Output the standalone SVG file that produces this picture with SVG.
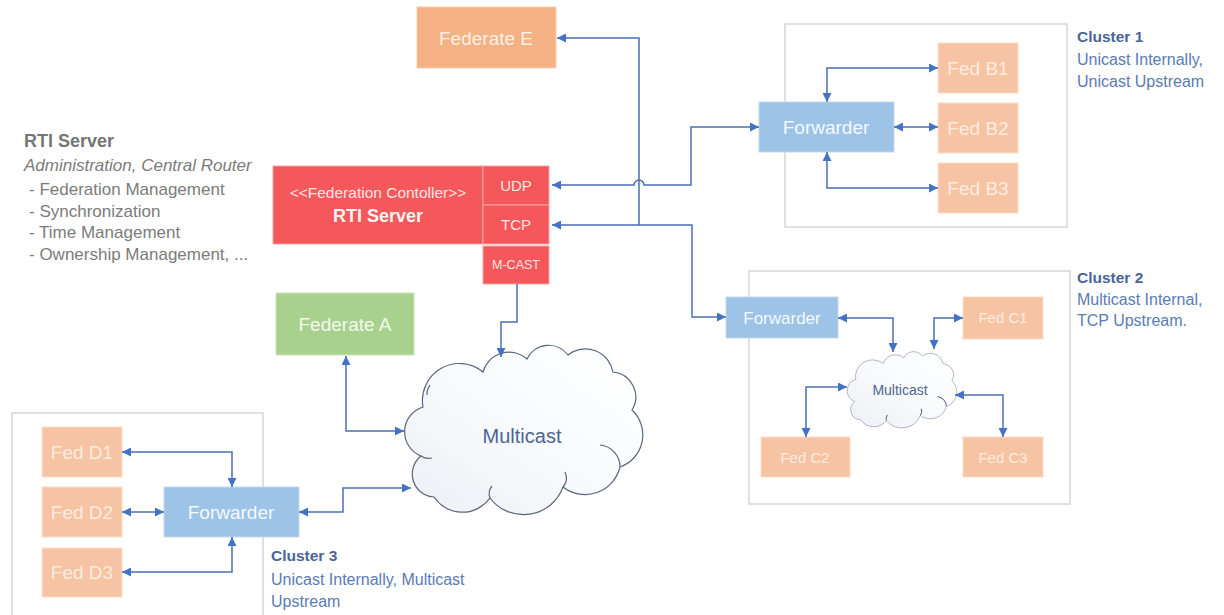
<svg xmlns="http://www.w3.org/2000/svg" width="1224" height="615" viewBox="0 0 1224 615">
<style>
text{font-family:"Liberation Sans",Arial,sans-serif}
.conn{fill:none;stroke:#4a6fb5;stroke-width:1.5}
.cluster{fill:#ffffff;stroke:#d6d6d6;stroke-width:1.5}
.fed{fill:#f6c4a2;stroke:#fadccb;stroke-width:1}
.fedt{fill:#fcebe0;font-size:19px;text-anchor:middle}
.fwd{fill:#9dc3e6;stroke:#c3d9ef;stroke-width:1}
.fwdt{fill:#f4f9fd;font-size:19px;text-anchor:middle}
.rti{fill:#f4585b;stroke:#f8a3a4;stroke-width:1}
.rtit{fill:#fde6e6;text-anchor:middle}
.note{fill:#7b7b7b;font-size:17px}
.clh{fill:#4a6598;font-size:15.5px;font-weight:bold}
.cl{fill:#5a7bb5;font-size:16px}
.cloud{fill:url(#cg);stroke:#59657c;stroke-width:1.2}
.mc{fill:#4d6594;text-anchor:middle}
</style>
<defs>
<marker id="ah" viewBox="0 0 10 10" refX="10" refY="5" markerWidth="9" markerHeight="9" markerUnits="userSpaceOnUse" orient="auto-start-reverse">
<path d="M0,0 L10,5 L0,10 z" fill="#4472c4"/>
</marker>
<linearGradient id="cg" x1="0" y1="1" x2="1" y2="0">
<stop offset="0" stop-color="#eceff5"/>
<stop offset="0.55" stop-color="#fafbfd"/>
<stop offset="1" stop-color="#ffffff"/>
</linearGradient>
<path id="cloudShape" d="M423,407 A37,37 0 0 1 483,372 A27,27 0 0 1 527,359 A24,24 0 0 1 568,355 A28,28 0 0 1 613,372 A25,25 0 0 1 632,410 A34,34 0 0 1 620,467 A36,36 0 0 1 563,487 A42,42 0 0 1 490,498 A34,34 0 0 1 434,497 A23,23 0 0 1 421,456 A26,26 0 0 1 423,407 Z"/>
</defs>

<!-- cluster frames -->
<g id="cluster1"><rect class="cluster" x="785" y="24" width="282" height="203"/></g>
<g id="cluster2"><rect class="cluster" x="749" y="271" width="321" height="233"/></g>
<g id="cluster3"><rect class="cluster" x="12" y="413" width="251" height="215"/></g>

<!-- left description -->
<g id="rti-description">
<text x="24" y="147" style="fill:#767676;font-size:18px;font-weight:bold">RTI Server</text>
<text x="24" y="171" class="note" style="font-style:italic">Administration, Central Router</text>
<text x="29" y="195" class="note">- Federation Management</text>
<text x="29" y="217" class="note">- Synchronization</text>
<text x="29" y="238" class="note">- Time Management</text>
<text x="29" y="260" class="note">- Ownership Management, ...</text>
</g>

<!-- cluster labels -->
<g id="cluster1-label">
<text x="1077" y="42" class="clh">Cluster 1</text>
<text x="1077" y="65" class="cl">Unicast Internally,</text>
<text x="1077" y="87" class="cl">Unicast Upstream</text>
</g>
<g id="cluster2-label">
<text x="1077" y="283" class="clh">Cluster 2</text>
<text x="1077" y="305" class="cl">Multicast Internal,</text>
<text x="1077" y="326" class="cl">TCP Upstream.</text>
</g>
<g id="cluster3-label">
<text x="271" y="561" class="clh">Cluster 3</text>
<text x="271" y="585" class="cl">Unicast Internally, Multicast</text>
<text x="271" y="607" class="cl">Upstream</text>
</g>

<!-- clouds -->
<g id="multicast-main">
<use href="#cloudShape" class="cloud"/>
<path d="M600,445 A22,22 0 0 1 620,467" fill="none" stroke="#59657c" stroke-width="1.2"/>
<path d="M563,487 A14,14 0 0 0 565,472" fill="none" stroke="#59657c" stroke-width="1.2"/>
<path d="M490,498 A12,12 0 0 1 492,486" fill="none" stroke="#59657c" stroke-width="1.2"/>
<path d="M421,456 A14,14 0 0 0 432,458" fill="none" stroke="#59657c" stroke-width="1.2"/>
<path d="M430,385 A16,16 0 0 0 427,395" fill="none" stroke="#59657c" stroke-width="1.2"/>
<text x="522" y="443" class="mc" style="font-size:20px">Multicast</text>
</g>
<g id="multicast-c2">
<g transform="translate(847 352) scale(0.46 0.45) translate(-404 -346)">
<use href="#cloudShape" class="cloud" vector-effect="non-scaling-stroke" style="stroke-width:1"/>
<path d="M600,445 A22,22 0 0 1 620,467" fill="none" stroke="#59657c" stroke-width="2.2"/>
<path d="M563,487 A14,14 0 0 0 565,472" fill="none" stroke="#59657c" stroke-width="2.2"/>
<path d="M490,498 A12,12 0 0 1 492,486" fill="none" stroke="#59657c" stroke-width="2.2"/>
</g>
<text x="900" y="395" class="mc" style="font-size:14px">Multicast</text>
</g>

<!-- RTI server -->
<g id="rti-server">
<rect class="rti" x="273" y="166" width="210" height="78"/>
<text x="378" y="198" class="rtit" style="font-size:15.5px">&lt;&lt;Federation Contoller&gt;&gt;</text>
<text x="378" y="222" class="rtit" style="font-size:18px;font-weight:bold;fill:#fff3f3">RTI Server</text>
</g>
<g id="udp"><rect class="rti" x="483" y="166" width="66" height="39"/><text x="516" y="191" class="rtit" style="font-size:15px">UDP</text></g>
<g id="tcp"><rect class="rti" x="483" y="205" width="66" height="39"/><text x="516" y="230" class="rtit" style="font-size:15px">TCP</text></g>
<g id="mcast"><rect class="rti" x="483" y="246" width="66" height="38"/><text x="516" y="269" class="rtit" style="font-size:12.5px">M-CAST</text></g>

<!-- federates -->
<g id="federate-e"><rect x="417" y="7" width="139" height="61" fill="#f4b183" stroke="#f8cdb0"/><text x="486" y="45" class="fedt" style="fill:#fdf0e6">Federate E</text></g>
<g id="federate-a"><rect x="276" y="293" width="138" height="62" fill="#a9d18e" stroke="#c9e3b8"/><text x="345" y="331" class="fedt" style="fill:#f3f9ee">Federate A</text></g>

<g id="forwarder1"><rect class="fwd" x="759" y="102" width="135" height="50"/><text x="826" y="134" class="fwdt">Forwarder</text></g>
<g id="fed-b1"><rect class="fed" x="938" y="43" width="80" height="50"/><text x="978" y="75" class="fedt">Fed B1</text></g>
<g id="fed-b2"><rect class="fed" x="938" y="103" width="80" height="50"/><text x="978" y="135" class="fedt">Fed B2</text></g>
<g id="fed-b3"><rect class="fed" x="938" y="163" width="80" height="50"/><text x="978" y="195" class="fedt">Fed B3</text></g>

<g id="forwarder2"><rect class="fwd" x="726" y="297" width="112" height="41"/><text x="782" y="324" class="fwdt" style="font-size:17px">Forwarder</text></g>
<g id="fed-c1"><rect class="fed" x="963" y="297" width="80" height="42"/><text x="1003" y="323" class="fedt" style="font-size:15px">Fed C1</text></g>
<g id="fed-c2"><rect class="fed" x="761" y="437" width="89" height="40"/><text x="805" y="463" class="fedt" style="font-size:15px">Fed C2</text></g>
<g id="fed-c3"><rect class="fed" x="963" y="437" width="80" height="40"/><text x="1003" y="463" class="fedt" style="font-size:15px">Fed C3</text></g>

<g id="forwarder3"><rect class="fwd" x="164" y="487" width="135" height="50"/><text x="231" y="519" class="fwdt">Forwarder</text></g>
<g id="fed-d1"><rect class="fed" x="42" y="427" width="80" height="50"/><text x="82" y="459" class="fedt">Fed D1</text></g>
<g id="fed-d2"><rect class="fed" x="42" y="487" width="80" height="50"/><text x="82" y="519" class="fedt">Fed D2</text></g>
<g id="fed-d3"><rect class="fed" x="42" y="548" width="80" height="49"/><text x="82" y="579" class="fedt">Fed D3</text></g>

<!-- connectors -->
<g id="connectors">
<path class="conn" d="M639,225 V38 H557" marker-end="url(#ah)"/>
<path class="conn" d="M552,185 H634 A5,5 0 0 1 644,185 H691 V127 H759" marker-start="url(#ah)" marker-end="url(#ah)"/>
<path class="conn" d="M552,225 H692 V317 H726" marker-start="url(#ah)" marker-end="url(#ah)"/>
<path class="conn" d="M517,284 V322 H501 V357" marker-end="url(#ah)"/>
<path class="conn" d="M346,356 V431 H404" marker-start="url(#ah)" marker-end="url(#ah)"/>
<path class="conn" d="M299,512 H343 V488 H411" marker-start="url(#ah)" marker-end="url(#ah)"/>
<path class="conn" d="M827,102 V68 H938" marker-start="url(#ah)" marker-end="url(#ah)"/>
<path class="conn" d="M894,127 H938" marker-start="url(#ah)" marker-end="url(#ah)"/>
<path class="conn" d="M827,152 V188 H938" marker-start="url(#ah)" marker-end="url(#ah)"/>
<path class="conn" d="M838,318 H893 V352" marker-start="url(#ah)" marker-end="url(#ah)"/>
<path class="conn" d="M963,318 H934 V349" marker-start="url(#ah)" marker-end="url(#ah)"/>
<path class="conn" d="M847,387 H806 V437" marker-start="url(#ah)" marker-end="url(#ah)"/>
<path class="conn" d="M955,395 H1003 V437" marker-start="url(#ah)" marker-end="url(#ah)"/>
<path class="conn" d="M122,452 H232 V487" marker-start="url(#ah)" marker-end="url(#ah)"/>
<path class="conn" d="M122,512 H164" marker-start="url(#ah)" marker-end="url(#ah)"/>
<path class="conn" d="M232,537 V572 H122" marker-start="url(#ah)" marker-end="url(#ah)"/>
</g>
</svg>
